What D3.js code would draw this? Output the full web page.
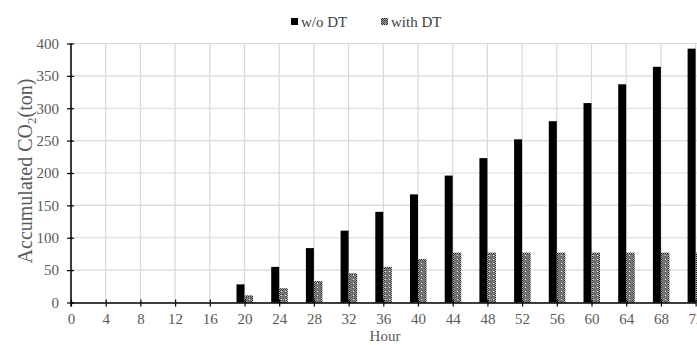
<!DOCTYPE html>
<html>
<head>
<meta charset="utf-8">
<script src="https://cdn.jsdelivr.net/npm/d3@7"></script>
<style>
  body { margin: 0; background: #fff; }
</style>
</head>
<body>
<div id="vis"></div>
<script>
// Accumulated CO2 over time, with and without DT

// Data
var hours = [0, 4, 8, 12, 16, 20, 24, 28, 32, 36, 40, 44, 48, 52, 56, 60, 64, 68, 72];
var withoutDT = [0, 0, 0, 0, 0, 28, 55, 84, 111, 140, 167, 196, 223, 252, 280, 308, 337, 364, 392];
var withDT = [0, 0, 0, 0, 0, 11, 22, 33, 45, 55, 67, 77, 77, 77, 77, 77, 77, 77, 77];
var yTicks = [0, 50, 100, 150, 200, 250, 300, 350, 400];
var seriesNames = ['w/o DT', 'with DT'];

var width = 697;
var height = 345;
var margin = { left: 71, top: 43.5, right: 1.4, bottom: 42.5 };
var serif = 'Liberation Serif';

var svg = d3.select('#vis')
    .append('svg')
    .attr('width', width)
    .attr('height', height);

// Patterns for the "with DT" bars
var defs = svg.append('defs');
var dots = defs.append('pattern')
    .attr('id', 'dots')
    .attr('patternUnits', 'userSpaceOnUse')
    .attr('width', 4).attr('height', 4);
dots.append('rect').attr('width', 4).attr('height', 4).attr('fill', '#767676');
dots.append('rect').attr('x', 0).attr('y', 0).attr('width', 1).attr('height', 1).attr('fill', '#555');
dots.append('rect').attr('x', 2).attr('y', 2).attr('width', 1).attr('height', 1).attr('fill', '#555');
dots.append('rect').attr('x', 1).attr('y', 3).attr('width', 1).attr('height', 1).attr('fill', '#e8e8e8');

var checker = defs.append('pattern')
    .attr('id', 'checker')
    .attr('patternUnits', 'userSpaceOnUse')
    .attr('width', 2).attr('height', 2);
checker.append('rect').attr('width', 2).attr('height', 2).attr('fill', '#b8b8b8');
checker.append('rect').attr('width', 1).attr('height', 1).attr('fill', '#1a1a1a');
checker.append('rect').attr('x', 1).attr('y', 1).attr('width', 1).attr('height', 1).attr('fill', '#1a1a1a');

var xScale = d3.scaleLinear()
    .domain([0, 72])
    .range([margin.left, width - margin.right]);

var yScale = d3.scaleLinear()
    .domain([0, 400])
    .range([height - margin.bottom, margin.top]);

// Gridlines
var grid = svg.append('g');
grid.selectAll('.hgrid').data(yTicks).enter().append('line')
    .attr('x1', margin.left).attr('x2', width)
    .attr('y1', function(d) { return yScale(d); })
    .attr('y2', function(d) { return yScale(d); })
    .attr('stroke', '#d9d9d9').attr('stroke-width', 1.2);
grid.selectAll('.vgrid').data(hours).enter().append('line')
    .attr('x1', function(d) { return xScale(d); })
    .attr('x2', function(d) { return xScale(d); })
    .attr('y1', yScale(400)).attr('y2', yScale(0))
    .attr('stroke', '#d9d9d9').attr('stroke-width', 1.2);

// Bars
var barW = 8;
var g = svg.append('g');
g.selectAll('.bar1').data(hours).enter().append('rect')
    .attr('x', function(d) { return xScale(d) - barW; })
    .attr('y', function(d, i) { return yScale(withoutDT[i]); })
    .attr('width', barW)
    .attr('height', function(d, i) { return yScale(0) - yScale(withoutDT[i]); })
    .attr('fill', '#000');

g.selectAll('.bar2').data(hours).enter().append('rect')
    .attr('x', function(d) { return xScale(d); })
    .attr('y', function(d, i) { return yScale(withDT[i]); })
    .attr('width', barW + 0.5)
    .attr('height', function(d, i) { return yScale(0) - yScale(withDT[i]); })
    .attr('fill', 'url(#checker)');
g.selectAll('.bar2in').data(hours).enter().append('rect')
    .attr('x', function(d) { return xScale(d) + 1.5; })
    .attr('y', function(d, i) { return yScale(withDT[i]) + 1.5; })
    .attr('width', barW - 2.5)
    .attr('height', function(d, i) { return Math.max(0, yScale(0) - yScale(withDT[i]) - 1.5); })
    .attr('fill', 'url(#dots)');

// Axes
var xAxis = d3.axisBottom(xScale).tickValues(hours).tickSize(4).tickSizeOuter(0);
var xAxisG = svg.append('g')
    .attr('transform', 'translate(0,' + yScale(0) + ')')
    .call(xAxis);
xAxisG.select('.domain').attr('stroke', '#000').attr('stroke-width', 1.5);
xAxisG.selectAll('.tick line').attr('y1', -3).attr('stroke', '#000').attr('stroke-width', 1.2);
xAxisG.selectAll('.tick text')
    .attr('y', 11)
    .style('font-family', serif)
    .style('font-size', '15px')
    .style('fill', '#595959');

var yAxis = d3.axisLeft(yScale).tickValues(yTicks).tickSize(4).tickSizeOuter(0);
var yAxisG = svg.append('g')
    .attr('transform', 'translate(' + margin.left + ',0)')
    .call(yAxis);
yAxisG.select('.domain').attr('stroke', '#000').attr('stroke-width', 1.5);
yAxisG.selectAll('.tick line').attr('x2', 3).attr('x1', -4).attr('stroke', '#000').attr('stroke-width', 1.2);
yAxisG.selectAll('.tick text')
    .attr('x', -12)
    .style('font-family', serif)
    .style('font-size', '15px')
    .style('fill', '#595959');
yAxisG.select('.domain').attr('d', 'M0,' + (yScale(400)) + 'V' + (yScale(0) + 4));

// Axis titles
svg.append('text')
    .attr('x', (margin.left + width) / 2 + 1)
    .attr('y', 341)
    .attr('text-anchor', 'middle')
    .style('font-family', serif)
    .style('font-size', '15px')
    .style('fill', '#595959')
    .text('Hour');

var yTitle = svg.append('text')
    .attr('transform', 'translate(32,' + 171 + ') rotate(-90)')
    .attr('text-anchor', 'middle')
    .style('font-family', serif)
    .style('font-size', '20px')
    .style('fill', '#595959');
yTitle.append('tspan').text('Accumulated CO');
yTitle.append('tspan').attr('dy', 4).style('font-size', '13px').text('2');
yTitle.append('tspan').attr('dy', -4).text('(ton)');

// Legend
var legend = svg.append('g');
var legendX = [291, 381];
var legendFill = ['#000', 'url(#checker)'];
legend.selectAll('rect').data(seriesNames).enter().append('rect')
    .attr('x', function(d, i) { return legendX[i]; })
    .attr('y', 18)
    .attr('width', 7).attr('height', 7)
    .attr('fill', function(d, i) { return legendFill[i]; });
legend.append('rect').attr('x', 382.5).attr('y', 19.5).attr('width', 4).attr('height', 4).attr('fill', 'url(#dots)');
legend.selectAll('text').data(seriesNames).enter().append('text')
    .attr('x', function(d, i) { return legendX[i] + 10; })
    .attr('y', 26.5)
    .style('font-family', serif)
    .style('font-size', '15px')
    .style('fill', '#404040')
    .text(function(d) { return d; });
</script>
</body>
</html>
